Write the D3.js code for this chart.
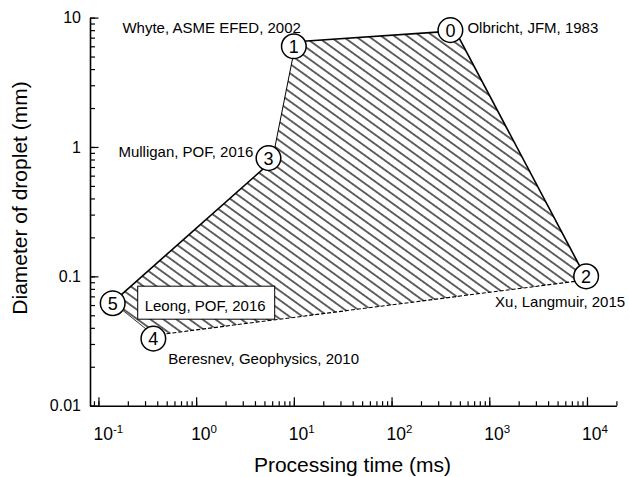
<!DOCTYPE html>
<html><head><meta charset="utf-8">
<script src="https://cdn.jsdelivr.net/npm/d3@7"></script>
<style>
body{margin:0;background:#fff}
text{font-family:"Liberation Sans",Arial,Helvetica,sans-serif;fill:#000}
</style>
</head><body>
<svg id="chart" width="629" height="477"></svg>
<script>
// ---- data ----
// boundary of the hatched region (processing time in ms, droplet diameter in mm)
const vertexTime = [10.5, 450, 10000, 0.37, 0.14, 6.0];
const vertexDiam = [6.5, 7.9, 0.094, 0.035, 0.063, 0.78];
// numbered markers
const markerIds  = ["1", "0", "2", "4", "5", "3"];
const markerTime = [10, 400, 9800, 0.365, 0.14, 5.5];
const markerDiam = [6.0, 8.0, 0.1, 0.033, 0.062, 0.82];
const markerLabels = ["Whyte, ASME EFED, 2002", "Olbricht, JFM, 1983", "Xu, Langmuir, 2015",
                      "Beresnev, Geophysics, 2010", "Leong, POF, 2016", "Mulligan, POF, 2016"];
// ticks
const xTickValues = [0.1, 1, 10, 100, 1000, 10000];
const xTickExponents = ["-1", "0", "1", "2", "3", "4"];
const yTickValues = [0.01, 0.1, 1, 10];
const yTickLabels = ["0.01", "0.1", "1", "10"];
const xTitle = "Processing time (ms)";
const yTitle = "Diameter of droplet (mm)";

// ---- layout ----
const svg = d3.select("#chart");
svg.append("rect").attr("width", 629).attr("height", 477).attr("fill", "#fff");
const x = d3.scaleLog().domain([0.082, 20000]).range([90, 616.4]);
const y = d3.scaleLog().domain([0.01, 10]).range([405.7, 17.6]);

const defs = svg.append("defs");
defs.append("pattern").attr("id", "hatch")
  .attr("patternUnits", "userSpaceOnUse")
  .attr("width", 10).attr("height", 7.6)
  .attr("patternTransform", "rotate(35.8)")
  .append("line").attr("x1", -1).attr("y1", 3.8).attr("x2", 11).attr("y2", 3.8)
  .attr("stroke", "#111").attr("stroke-width", 1.3);

const verts = vertexTime.map((t, i) => [x(t), y(vertexDiam[i])]);
svg.append("path")
  .attr("d", d3.line()(verts) + "Z")
  .attr("fill", "url(#hatch)").attr("stroke", "none");

// edges with individual styles
const edgeStyles = [
  {w: 1.6, dash: null},      // 1 -> 0
  {w: 1.6, dash: null},      // 0 -> 2
  {w: 1.1, dash: "4,2"},     // 2 -> 4
  {w: 0.8, dash: null},      // 4 -> 5
  {w: 1.6, dash: null},      // 5 -> 3
  {w: 1.0, dash: null}       // 3 -> 1
];
verts.forEach((p, i) => {
  const q = verts[(i + 1) % verts.length];
  const s = edgeStyles[i];
  svg.append("line").attr("x1", p[0]).attr("y1", p[1]).attr("x2", q[0]).attr("y2", q[1])
    .attr("stroke", "#000").attr("stroke-width", s.w)
    .attr("stroke-dasharray", s.dash);
});

// Leong label box
const i5 = 4;
const bx = x(markerTime[i5]) + 25, byy = y(markerDiam[i5]) - 17;
svg.append("rect").attr("x", bx).attr("y", byy).attr("width", 137).attr("height", 33)
  .attr("fill", "#fff").attr("stroke", "#000").attr("stroke-width", 1);

// axes
const minorX = [];
for (let k = -2; k <= 4; k++) for (let m = 1; m <= 9; m++) {
  const v = m * Math.pow(10, k);
  if (v >= 0.0899 && v <= 20001) minorX.push(v);
}
const minorY = [];
for (let k = -2; k <= 1; k++) for (let m = 1; m <= 9; m++) {
  const v = m * Math.pow(10, k);
  if (v >= 0.00999 && v <= 10.001) minorY.push(v);
}
const gx = svg.append("g").attr("transform", `translate(0,${y.range()[0]})`);
gx.call(d3.axisBottom(x).tickValues(minorX).tickSizeInner(-4.5).tickSizeOuter(0).tickFormat(""));
gx.append("g").call(d3.axisBottom(x).tickValues(xTickValues).tickSizeInner(-8.5).tickSizeOuter(0).tickFormat(""))
  .select(".domain").remove();
gx.selectAll(".domain").attr("stroke-width", 1.6);
gx.selectAll(".tick line").attr("stroke-width", 1.2);

const gy = svg.append("g").attr("transform", `translate(${x.range()[0]},0)`);
gy.call(d3.axisLeft(y).tickValues(minorY).tickSizeInner(-5).tickSizeOuter(0).tickFormat(""));
gy.append("g").call(d3.axisLeft(y).tickValues(yTickValues).tickSizeInner(-8.5).tickSizeOuter(0)
    .tickPadding(9).tickFormat((d, i) => yTickLabels[i]))
  .call(g => g.select(".domain").remove())
  .call(g => g.selectAll("text").attr("font-size", 16).attr("font-family", null));
gy.selectAll(".domain").attr("stroke-width", 1.6);
gy.selectAll(".tick line").attr("stroke-width", 1.2);

// x tick labels with superscripts
xTickValues.forEach((v, i) => {
  const t = svg.append("text").attr("x", x(v) - 5).attr("y", 439.5).attr("font-size", 17.5);
  t.append("tspan").text("10");
  t.append("tspan").attr("font-size", 11.5).attr("dy", -7).text(xTickExponents[i]);
});

// axis titles
svg.append("text").attr("x", 352.5).attr("y", 472).attr("text-anchor", "middle")
  .attr("font-size", 21).text(xTitle);
svg.append("text").attr("transform", "translate(26.7,198) rotate(-90)").attr("text-anchor", "middle")
  .attr("font-size", 21).text(yTitle);

// markers
const mk = svg.append("g");
markerIds.forEach((id, i) => {
  const cx = x(markerTime[i]), cy = y(markerDiam[i]);
  mk.append("circle").attr("cx", cx).attr("cy", cy).attr("r", 12.3)
    .attr("fill", "#fff").attr("stroke", "#000").attr("stroke-width", 1.5);
  mk.append("text").attr("x", cx).attr("y", cy).attr("dy", "0.36em").attr("text-anchor", "middle")
    .attr("font-size", 18).text(id);
});

// marker labels (offsets from each marker)
const labelOffsets = [
  {dx: 7, dy: -13, a: "end"},     // Whyte
  {dx: 17, dy: 3, a: "start"},    // Olbricht
  {dx: 39, dy: 31, a: "end"},     // Xu
  {dx: 15, dy: 25, a: "start"},   // Beresnev
  {dx: 32, dy: 8, a: "start"},    // Leong
  {dx: -15, dy: -1, a: "end"}     // Mulligan
];
markerLabels.forEach((lab, i) => {
  const o = labelOffsets[i];
  svg.append("text").attr("x", x(markerTime[i]) + o.dx).attr("y", y(markerDiam[i]) + o.dy)
    .attr("text-anchor", o.a).attr("font-size", 15).text(lab);
});
</script>
</body></html>
